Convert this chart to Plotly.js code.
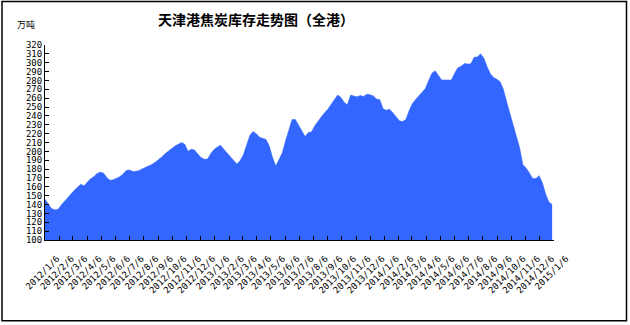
<!DOCTYPE html>
<html>
<head>
<meta charset="utf-8">
<script src="https://cdn.plot.ly/plotly-3.0.1.min.js"></script>
<style>
  html, body { margin: 0; padding: 0; background: #fff; }
  #chart { width: 630px; height: 325px; }
</style>
</head>
<body>
<div id="chart"></div>
<script>
// Weekly coke inventory at Tianjin port (all terminals), 10k tonnes.
// First report: 2012-01-06, one reading every Friday.
const firstReport = [2012, 0, 6];
const stock = [
  146, 140, 135.5, 134, 134.5, 139.5, 144, 148, 152, 156,
  160, 163, 161.3, 165.5, 169, 171.5, 175, 176.5, 175.5, 170.5,
  167.5, 168, 169.5, 171.5, 174.5, 178.5, 179, 177.4, 177.5, 178.5,
  180.5, 182, 184, 185.5, 188, 190.5, 194, 197.5, 200.5, 203.7,
  206, 208, 210, 208, 200, 202.5, 201.5, 197, 193, 191,
  191.4, 197.5, 202, 205, 207, 202.5, 198, 194, 189.5, 185.7,
  189.5, 196, 207, 218, 222.5, 220, 216, 214.5, 213.5, 206,
  193, 183.5, 191, 198.5, 212, 225.5, 236, 236, 229.7, 224,
  216.8, 221.3, 222, 229, 234.5, 239, 243.5, 247.5, 253, 258.7,
  263.5, 261, 255.5, 252.5, 263.5, 262.5, 261.5, 263, 262, 264.5,
  264, 262.5, 259, 258.2, 248, 246.5, 247.5, 243.5, 238.3, 234.5,
  233.7, 236, 245.8, 254, 258.5, 262.5, 266.5, 270.8, 280, 288,
  291, 285, 280.6, 280.6, 280.3, 280.5, 288, 294.3, 296, 299.2,
  298.6, 298.8, 306.2, 306.6, 310, 305, 295.5, 287.5, 283.3, 281.4,
  278.5, 270, 256, 243.5, 231, 219.5, 204, 185, 181.2, 175.6,
  169.5, 169.5, 172.6, 164.5, 152, 143, 140
];
const monthTicks = [
  '2012/1/6','2012/2/6','2012/3/6','2012/4/6','2012/5/6','2012/6/6',
  '2012/7/6','2012/8/6','2012/9/6','2012/10/6','2012/11/6','2012/12/6',
  '2013/1/6','2013/2/6','2013/3/6','2013/4/6','2013/5/6','2013/6/6',
  '2013/7/6','2013/8/6','2013/9/6','2013/10/6','2013/11/6','2013/12/6',
  '2014/1/6','2014/2/6','2014/3/6','2014/4/6','2014/5/6','2014/6/6',
  '2014/7/6','2014/8/6','2014/9/6','2014/10/6','2014/11/6','2014/12/6',
  '2015/1/6'
];
const chartTitle = '天津港焦炭库存走势图（全港）';
const unitLabel = '万吨';

// Friday report dates
const reportDates = stock.map((_, i) =>
  new Date(Date.UTC(firstReport[0], firstReport[1], firstReport[2] + 7 * i))
    .toISOString().slice(0, 10));

const toIso = s => {
  const [y, m, d] = s.split('/').map(Number);
  return y + '-' + String(m).padStart(2, '0') + '-' + String(d).padStart(2, '0');
};
const tickDates = monthTicks.map(toIso);

const W = 630, H = 325;
const M = { l: 45, r: 76, t: 45, b: 84.5 };
const pw = W - M.l - M.r, ph = H - M.t - M.b;
const px = x => (x - M.l) / pw;          // page pixel -> paper x
const py = y => (H - M.b - y) / ph;      // page pixel -> paper y

const blue = '#3366ff';
const tickFont = { family: 'DejaVu Sans Mono, monospace', size: 9, color: '#000' };

const trace = {
  x: reportDates,
  y: stock,
  type: 'scatter',
  mode: 'lines',
  fill: 'tozeroy',
  fillcolor: blue,
  line: { color: blue, width: 0.5 },
  hoverinfo: 'x+y'
};

const layout = {
  width: W, height: H,
  margin: M,
  paper_bgcolor: '#fff',
  plot_bgcolor: '#fff',
  showlegend: false,
  title: {
    text: '<b>' + chartTitle + '</b>',
    font: { family: 'Noto Sans CJK SC, sans-serif', size: 14, color: '#000' },
    xref: 'container', yref: 'container',
    x: 256 / W, xanchor: 'center',
    y: 1 - 20 / H, yanchor: 'middle'
  },
  xaxis: {
    type: 'date',
    range: [tickDates[0], tickDates[tickDates.length - 1]],
    tickmode: 'array',
    tickvals: tickDates,
    ticktext: monthTicks,
    tickangle: -45,
    ticks: 'inside', ticklen: 4, tickwidth: 1, tickcolor: '#000',
    showline: true, linecolor: '#000', linewidth: 1,
    showgrid: false, zeroline: false,
    tickfont: tickFont,
    ticklabelshift: 12,
    ticklabelstandoff: 9,
    fixedrange: true
  },
  yaxis: {
    range: [100, 320],
    tick0: 100, dtick: 10,
    ticks: 'inside', ticklen: 4, tickwidth: 1, tickcolor: '#000',
    showline: true, linecolor: '#000', linewidth: 1,
    showgrid: false, zeroline: false,
    tickfont: tickFont,
    fixedrange: true
  },
  annotations: [{
    text: unitLabel,
    xref: 'paper', yref: 'paper',
    x: px(26), y: py(24),
    xanchor: 'center', yanchor: 'middle',
    showarrow: false,
    font: { family: 'Noto Sans CJK SC, sans-serif', size: 9, color: '#000' }
  }],
  shapes: [{
    type: 'rect', xref: 'paper', yref: 'paper',
    x0: px(2), x1: px(626.5), y0: py(321.5), y1: py(1.5),
    line: { color: '#000', width: 1.5 },
    fillcolor: 'rgba(0,0,0,0)'
  }]
};

Plotly.newPlot('chart', [trace], layout, { displayModeBar: false, staticPlot: true });
</script>
</body>
</html>
